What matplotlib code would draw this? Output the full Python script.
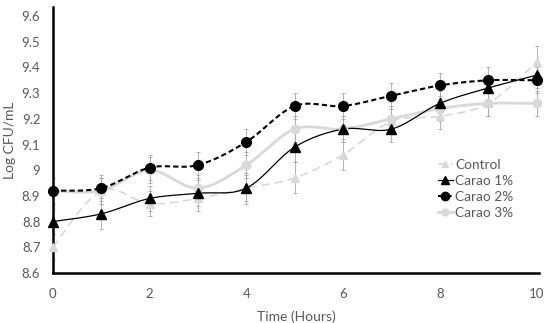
import numpy as np
import matplotlib
matplotlib.use("Agg")
import matplotlib.pyplot as plt
from matplotlib.ticker import FuncFormatter

hours = [0, 1, 2, 3, 4, 5, 6, 7, 8, 9, 10]
control = [8.70, 8.92, 8.87, 8.89, 8.93, 8.97, 9.06, 9.19, 9.21, 9.26, 9.42]
carao1 = [8.80, 8.83, 8.89, 8.91, 8.93, 9.09, 9.16, 9.16, 9.26, 9.32, 9.37]
carao2 = [8.92, 8.93, 9.01, 9.02, 9.11, 9.25, 9.25, 9.29, 9.33, 9.35, 9.35]
carao3 = [8.92, 8.92, 9.00, 8.93, 9.02, 9.16, 9.16, 9.20, 9.24, 9.26, 9.26]
err_control = [0.05, 0.05, 0.05, 0.05, 0.05, 0.06, 0.06, 0.05, 0.05, 0.05, 0.065]
err_carao1 = [0.05, 0.06, 0.05, 0.05, 0.06, 0.06, 0.05, 0.05, 0.05, 0.05, 0.05]
err_carao2 = [0.05, 0.05, 0.05, 0.05, 0.05, 0.05, 0.05, 0.05, 0.05, 0.05, 0.05]
err_carao3 = [0.05, 0.05, 0.05, 0.05, 0.05, 0.05, 0.05, 0.05, 0.05, 0.05, 0.05]
labels = ["Control", "Carao 1%", "Carao 2%", "Carao 3%"]

plt.rcParams['font.family'] = ['Lato', 'DejaVu Sans']


def smooth(x, y, n=30):
    x = np.asarray(x, float)
    y = np.asarray(y, float)
    xs, ys = [], []
    m = len(x)
    for i in range(m - 1):
        p0 = np.array([x[max(i - 1, 0)], y[max(i - 1, 0)]])
        p1 = np.array([x[i], y[i]])
        p2 = np.array([x[i + 1], y[i + 1]])
        p3 = np.array([x[min(i + 2, m - 1)], y[min(i + 2, m - 1)]])
        c1 = p1 + (p2 - p0) / 6.0
        c2 = p2 - (p3 - p1) / 6.0
        t = np.linspace(0, 1, n)[:, None]
        b = ((1 - t) ** 3) * p1 + 3 * ((1 - t) ** 2) * t * c1 + 3 * (1 - t) * t ** 2 * c2 + t ** 3 * p2
        xs.extend(b[:, 0])
        ys.extend(b[:, 1])
    return np.array(xs), np.array(ys)


fig = plt.figure(figsize=(5.5, 3.23), dpi=100)
ax = fig.add_axes([0.096, 0.155, 0.884, 0.823])

series = [
    (control, err_control, dict(color='#d9d9d9', ls=(0, (5, 3)), lw=1.2), dict(marker='^', ms=6, color='#d9d9d9')),
    (carao3, err_carao3, dict(color='#d9d9d9', ls='-', lw=2.0), dict(marker='o', ms=6, color='#d9d9d9')),
    (carao1, err_carao1, dict(color='black', ls='-', lw=0.9), dict(marker='^', ms=7, color='black')),
    (carao2, err_carao2, dict(color='black', ls=(0, (2.5, 1.5)), lw=1.5), dict(marker='o', ms=7, color='black')),
]
order_labels = ["Control", "Carao 3%", "Carao 1%", "Carao 2%"]
handles = {}
for (vals, err, lstyle, mstyle), lab in zip(series, order_labels):
    ax.errorbar(hours, vals, yerr=err, fmt='none', ecolor='#a6a6a6', elinewidth=0.6,
                capsize=1.5, capthick=0.6, zorder=1)
    sx, sy = smooth(hours, vals)
    ax.plot(sx, sy, zorder=2, **lstyle)
    ax.plot(hours, vals, ls='none', zorder=3, clip_on=False, **mstyle)
    h, = ax.plot([], [], ls=lstyle['ls'], lw=lstyle['lw'], color=lstyle['color'],
                 marker=mstyle['marker'], ms=mstyle['ms'] - 1, markerfacecolor=mstyle['color'],
                 markeredgecolor=mstyle['color'])
    handles[lab] = h

ax.set_xlim(0, 10.05)
ax.set_ylim(8.6, 9.635)
ax.set_xticks([0, 2, 4, 6, 8, 10])
ax.set_yticks(np.round(np.arange(8.6, 9.61, 0.1), 1))
ax.yaxis.set_major_formatter(FuncFormatter(lambda v, p: f"{v:g}"))
ax.tick_params(axis='both', length=0, labelsize=9.5, labelcolor='#595959')
ax.tick_params(axis='x', pad=10.5)
ax.tick_params(axis='y', pad=9)
for s in ['top', 'right']:
    ax.spines[s].set_visible(False)
for s in ['left', 'bottom']:
    ax.spines[s].set_linewidth(1.8)
    ax.spines[s].set_color('black')

ax.set_xlabel("Time (Hours)", fontsize=10, color='#595959')
ax.set_ylabel("Log CFU/mL", fontsize=10, color='#595959')
ax.xaxis.set_label_coords(0.502, -0.143)
ax.yaxis.set_label_coords(-0.076, 0.5)

leg = ax.legend([handles[l] for l in labels], labels, loc='upper left',
                bbox_to_anchor=(0.792, 0.43), frameon=False, fontsize=9.8,
                handlelength=1.1, handletextpad=0.15, labelspacing=0.3,
                borderaxespad=0, borderpad=0)
for t in leg.get_texts():
    t.set_color('#595959')

fig.savefig("out.png", dpi=100)
